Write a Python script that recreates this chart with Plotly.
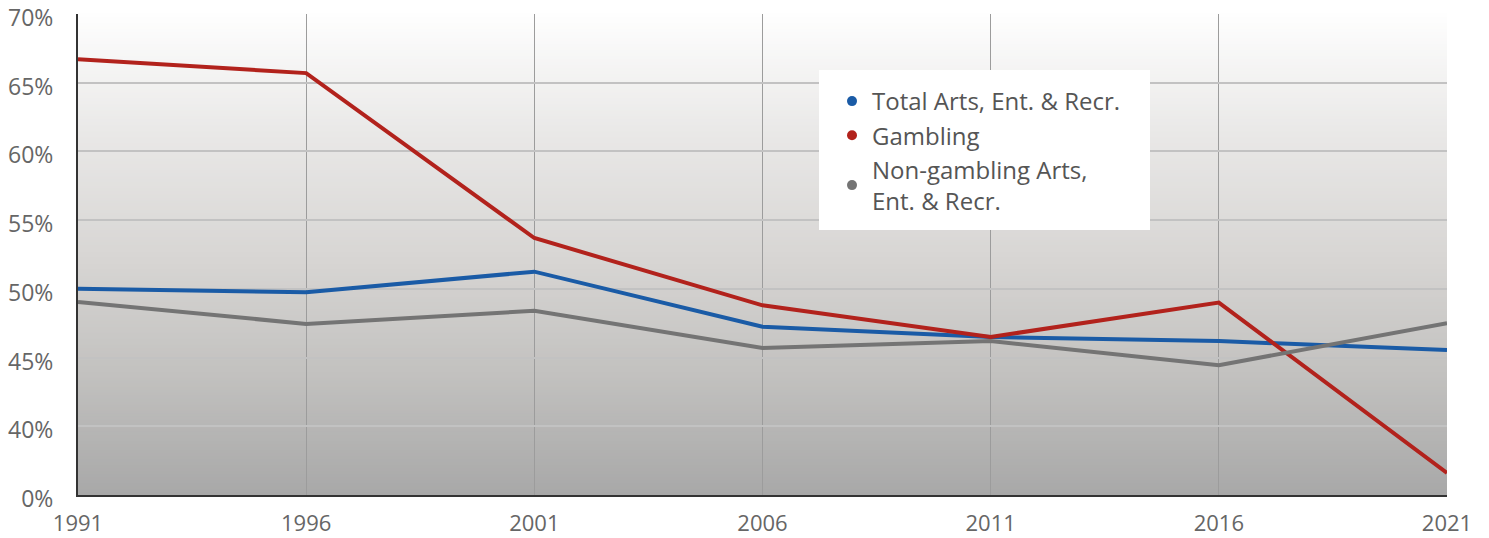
import plotly.graph_objects as go

# Census years
years = [1991, 1996, 2001, 2006, 2011, 2016, 2021]

# Share (%) by industry group
total_arts = [50.0, 49.75, 51.25, 47.25, 46.5, 46.2, 45.55]
gambling = [66.7, 65.7, 53.7, 48.8, 46.5, 49.0, 36.6]
non_gambling = [49.05, 47.45, 48.4, 45.7, 46.2, 44.45, 47.5]

series_names = ["Total Arts, Ent. & Recr.", "Gambling", "Non-gambling Arts,<br>Ent. & Recr."]
series_colors = ["#1a5ba6", "#b2221c", "#747474"]

# Broken value axis: the lowest tick is labelled 0%
y_tickvals = [35, 40, 45, 50, 55, 60, 65, 70]
y_ticktext = ["0%", "40%", "45%", "50%", "55%", "60%", "65%", "70%"]

FONT = "Open Sans"

fig = go.Figure()

for name, vals, col in zip(series_names, [total_arts, gambling, non_gambling], series_colors):
    fig.add_trace(go.Scatter(x=years, y=vals, mode="lines", line=dict(color=col, width=4),
                             showlegend=False, hoverinfo="x+y"))
    # legend entry with a dot symbol
    fig.add_trace(go.Scatter(x=[None], y=[None], mode="markers", name=name,
                             marker=dict(color=col, size=10), showlegend=True))

# vertical gradient background of the plot area, built from thin bands
stops = [(0.0, (168, 168, 168)), (0.25, (194, 193, 191)), (0.5, (216, 214, 212)),
         (0.75, (233, 232, 231)), (1.0, (254, 254, 254))]


def colour_at(t):
    for (t0, c0), (t1, c1) in zip(stops[:-1], stops[1:]):
        if t0 <= t <= t1:
            f = (t - t0) / (t1 - t0)
            return "rgb(%d,%d,%d)" % tuple(round(a + (b - a) * f) for a, b in zip(c0, c1))
    return "rgb(%d,%d,%d)" % stops[-1][1]


shapes = []
n_bands = 160
for i in range(n_bands):
    y0 = i / n_bands
    y1 = (i + 1) / n_bands
    shapes.append(dict(type="rect", xref="x domain", yref="y domain", x0=0, x1=1,
                       y0=y0, y1=y1 + 0.002, fillcolor=colour_at((y0 + y1) / 2),
                       line=dict(width=0), layer="below"))

# white legend panel
shapes.append(dict(type="rect", xref="paper", yref="paper",
                   x0=(819 - 78) / 1369, x1=(1150 - 78) / 1369,
                   y0=(495 - 230) / 481, y1=(495 - 70) / 481,
                   fillcolor="white", line=dict(width=0), layer="above"))

fig.update_layout(
    width=1489, height=538,
    margin=dict(l=78, r=42, t=14, b=43, autoexpand=False),
    paper_bgcolor="white",
    plot_bgcolor="rgba(0,0,0,0)",
    font=dict(family=FONT, color="#666666", size=22),
    shapes=shapes,
    legend=dict(x=(832 - 78) / 1369, y=(495 - 79) / 481, xanchor="left", yanchor="top",
                bgcolor="rgba(0,0,0,0)", borderwidth=0,
                font=dict(family=FONT, size=24, color="#555555"),
                tracegroupgap=0, itemwidth=30),
    xaxis=dict(range=[1991, 2021], tickvals=years, ticktext=[str(y) for y in years],
               showgrid=True, gridcolor="#9c9c9c", gridwidth=1.3,
               showline=True, linecolor="#333333", linewidth=2,
               ticks="", zeroline=False, automargin=False, ticklabelstandoff=8,
               ticklabeloverflow="allow",
               tickfont=dict(size=22, color="#666666")),
    yaxis=dict(range=[35, 70], tickvals=y_tickvals, ticktext=y_ticktext,
               showgrid=True, gridcolor="#c2c2c2", gridwidth=1.5,
               showline=True, linecolor="#333333", linewidth=2,
               ticks="", zeroline=False, automargin=False, ticklabelstandoff=18,
               ticklabeloverflow="allow", ticklabelshift=4,
               tickfont=dict(size=23, color="#666666")),
)

fig.write_html("out.html")
